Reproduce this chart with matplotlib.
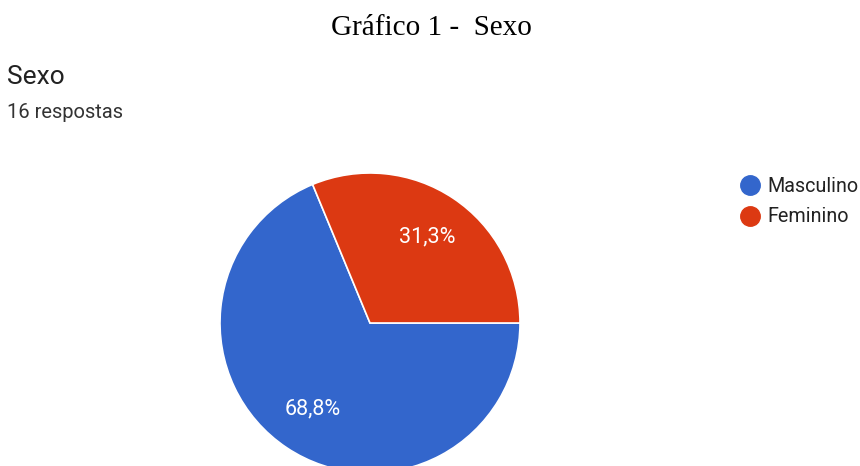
import matplotlib.pyplot as plt
from matplotlib.lines import Line2D

categories = ['Masculino', 'Feminino']
counts = [11, 5]
colors = ['#3366CC', '#DC3912']
title = 'Gráfico 1 -  Sexo'
question = 'Sexo'
n_answers = '16 respostas'

W, H = 860, 466
fig = plt.figure(figsize=(W / 100, H / 100), dpi=100)
fig.patch.set_facecolor('white')

# pie centre (370, 323) px, radius 150 px
cx, cy, r = 370, 323, 150
ax = fig.add_axes([(cx - r) / W, (H - cy - r) / H, 2 * r / W, 2 * r / H])
wedges, texts, autotexts = ax.pie(
    counts, colors=colors, startangle=0, counterclock=False,
    autopct=lambda p: f'{p + 1e-6:.1f}%'.replace('.', ','), pctdistance=0.69,
    wedgeprops=dict(edgecolor='white', linewidth=1.2),
    textprops=dict(color='white', fontsize=15.5, family='Roboto'))
ax.set_xlim(-1, 1)
ax.set_ylim(-1, 1)
ax.axis('off')

fig.text(431 / W, 1 - 28 / H, title, ha='center', va='center',
         fontsize=21, family='Liberation Serif', color='black')
fig.text(7 / W, 1 - 77 / H, question, ha='left', va='center',
         fontsize=19, family='Roboto', color='#222222')
fig.text(7 / W, 1 - 112 / H, n_answers, ha='left', va='center',
         fontsize=14.5, family='Roboto', color='#333333')

handles = [Line2D([], [], marker='o', linestyle='', markersize=14,
                  markerfacecolor=c, markeredgecolor=c) for c in colors]
fig.legend(handles, categories, loc='upper left',
           bbox_to_anchor=(740 / W, 1 - 177 / H), frameon=False,
           handlelength=1.0, handletextpad=0.4, labelspacing=0.58,
           borderaxespad=0, borderpad=0,
           prop=dict(family='Roboto', size=14.2), labelcolor='#222222')

fig.savefig('out.png', dpi=100, facecolor='white')
